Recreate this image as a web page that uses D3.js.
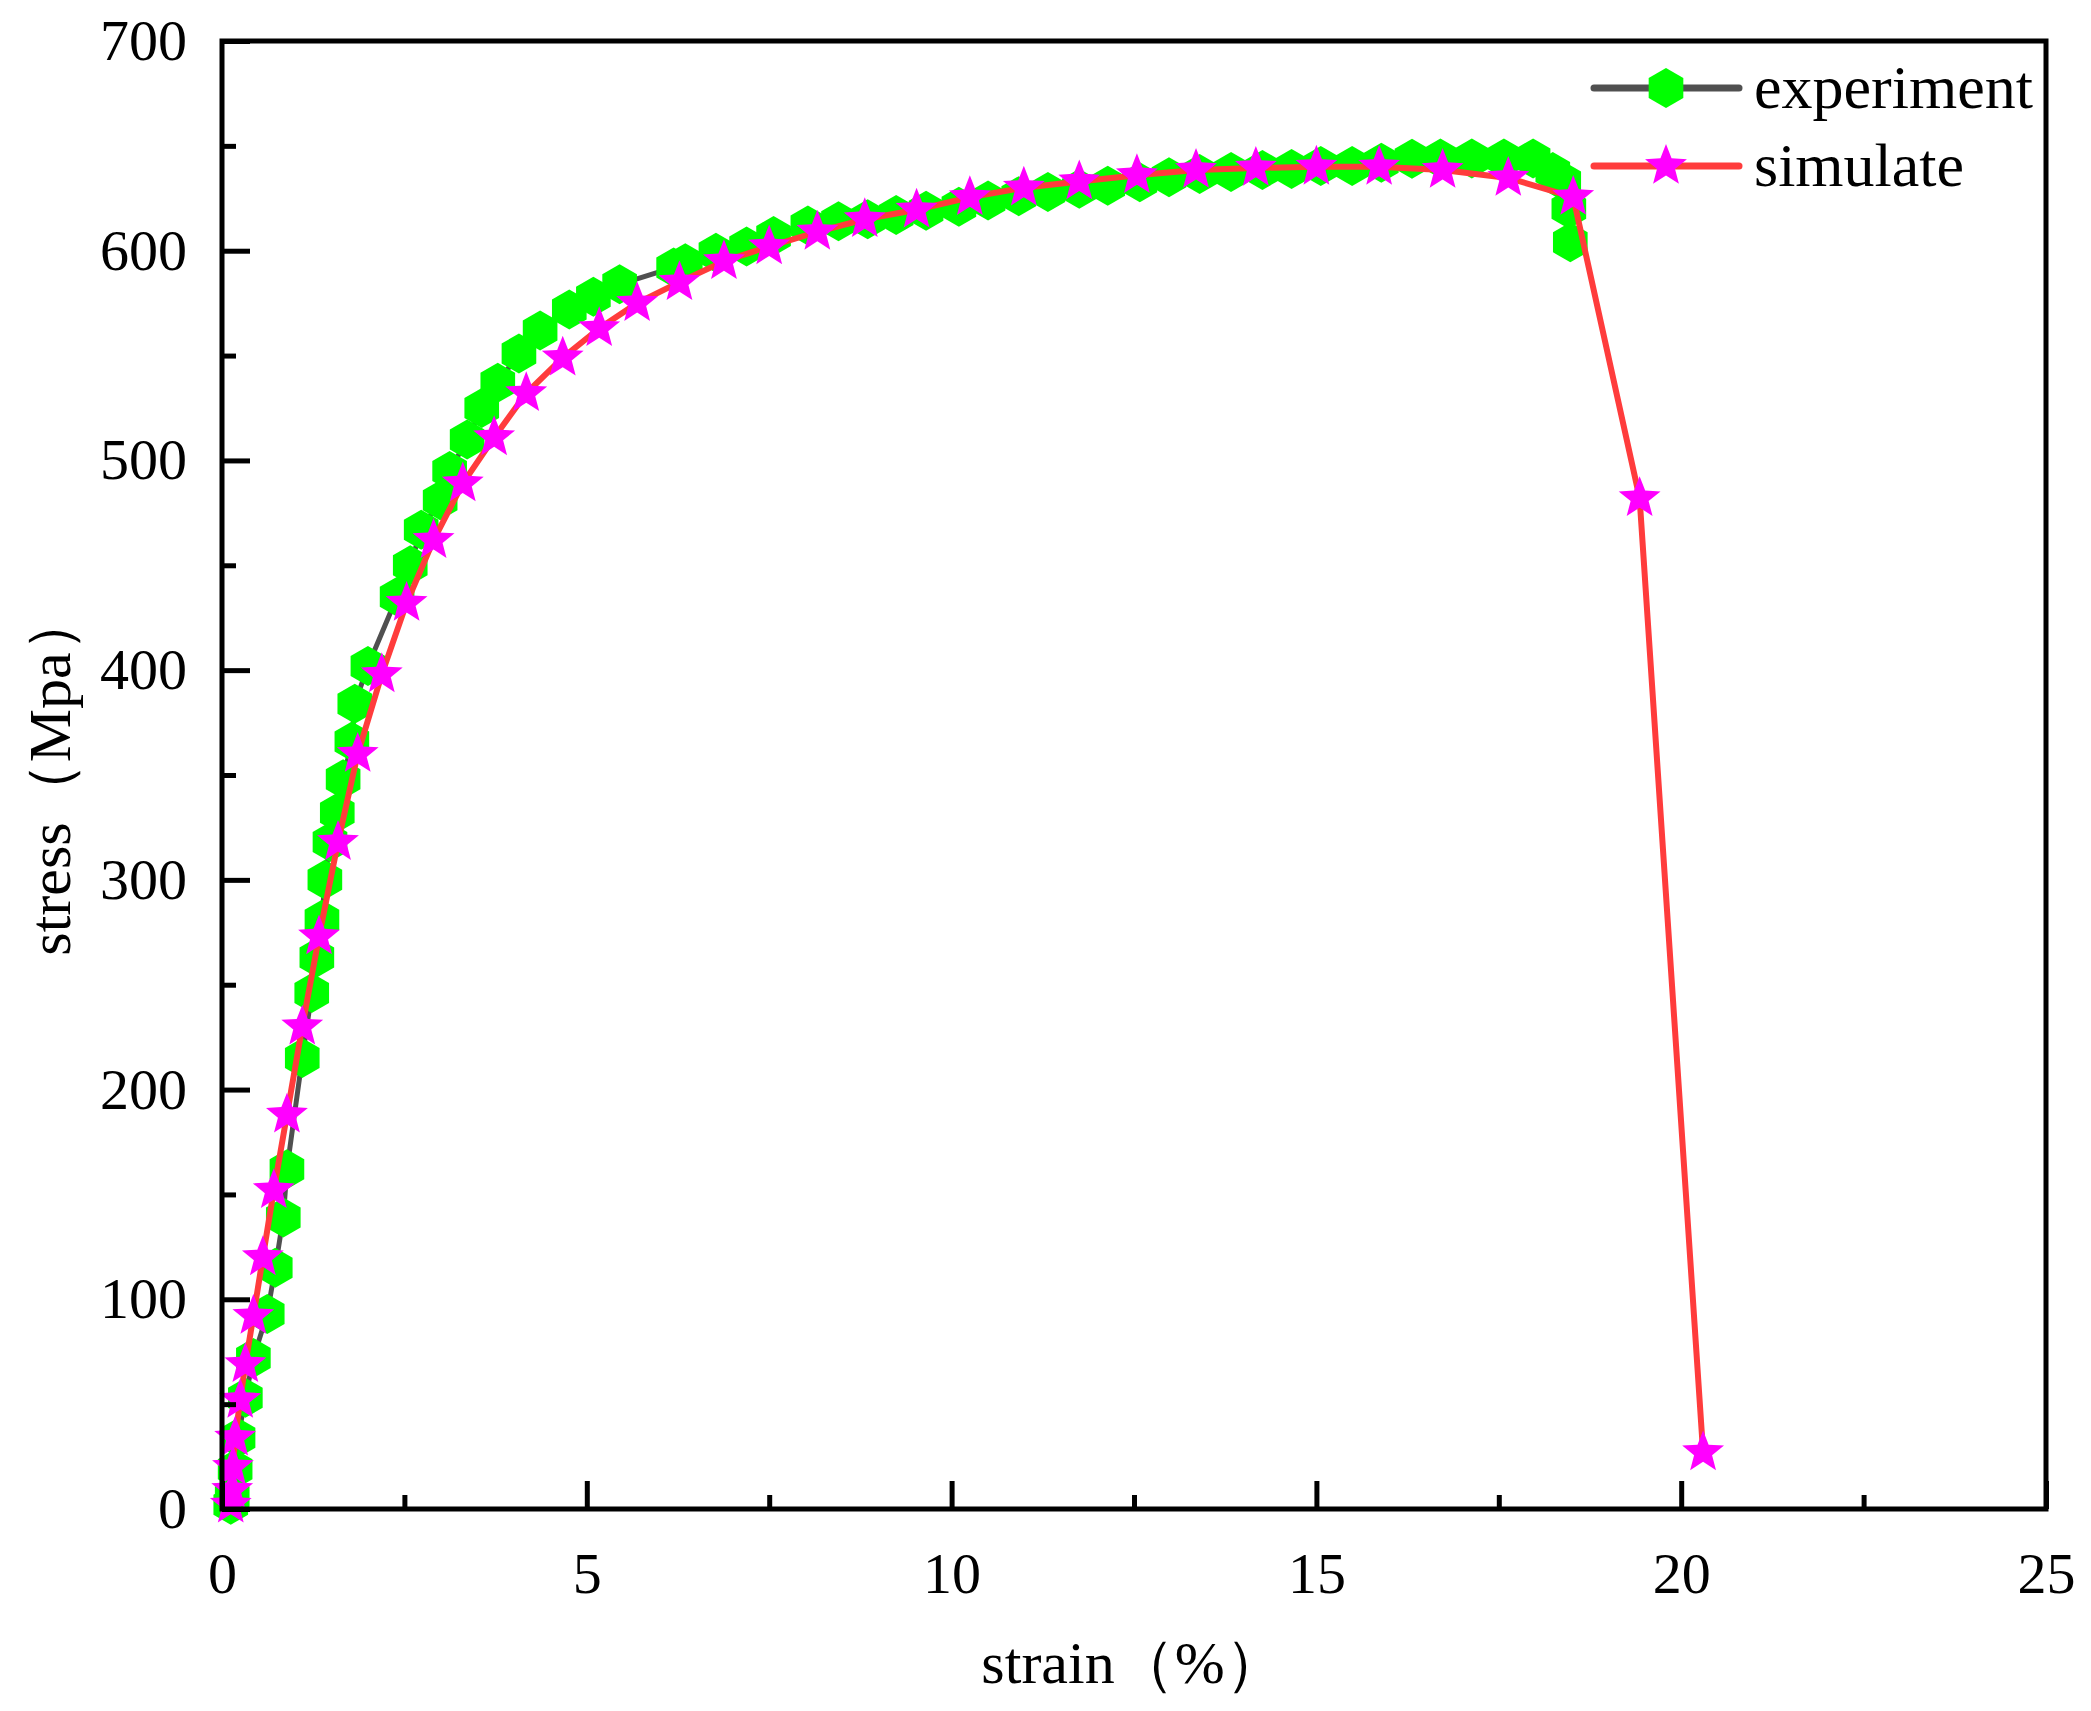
<!DOCTYPE html>
<html>
<head>
<meta charset="utf-8">
<script src="https://cdn.jsdelivr.net/npm/d3@7"></script>
<style>
body { margin: 0; background: #fff; }
text { font-family: "Liberation Serif", "Times New Roman", serif; fill: #000; }
</style>
</head>
<body>
<svg id="chart" width="2091" height="1711"></svg>
<script>
// experiment curve (strain %, stress MPa)
var expStrain = [0.12, 0.14, 0.18, 0.22, 0.32, 0.43, 0.62, 0.73, 0.84, 0.89, 1.10, 1.23, 1.30, 1.37, 1.41, 1.48, 1.58, 1.66, 1.78, 1.82,
  2.00, 2.40, 2.58, 2.73, 2.99, 3.12, 3.36, 3.56, 3.78, 4.07, 4.36, 4.76, 5.09, 5.45, 6.19, 6.35, 6.77, 7.19, 7.56, 8.03,
  8.45, 8.85, 9.24, 9.65, 10.10, 10.50, 10.92, 11.32, 11.75, 12.14, 12.58, 12.98, 13.40, 13.83, 14.26, 14.66, 15.06, 15.49, 15.89, 16.31,
  16.70, 17.13, 17.57, 17.97, 18.24, 18.39, 18.46, 18.48];
var expStress = [2, 6, 19, 34, 53, 72, 93, 115, 139, 162, 215, 246, 263, 281, 300, 318, 332, 348, 366, 384,
  402, 435, 450, 467, 481, 495, 510, 525, 537, 551, 562, 572, 578, 584, 592, 594, 599, 602, 607, 612,
  614, 615, 617, 619, 621, 624, 626, 628, 629.5, 631, 632.7, 635, 636.6, 637.5, 638.5, 639, 640.4, 640.4, 642, 643.8,
  644, 644, 644, 644, 637.5, 633, 620, 604];

// simulated curve
var simStrain = [0.12, 0.14, 0.15, 0.18, 0.25, 0.32, 0.43, 0.56, 0.71, 0.89, 1.10, 1.33, 1.59, 1.86, 2.19, 2.53, 2.90, 3.30, 3.73, 4.17,
  4.67, 5.17, 5.69, 6.27, 6.88, 7.50, 8.16, 8.81, 9.52, 10.25, 10.99, 11.75, 12.54, 13.35, 14.17, 15.00, 15.86, 16.73, 17.63, 18.52,
  19.43, 20.30];
var simStress = [2, 9, 20, 34, 52, 69, 92, 120, 152, 188, 230, 273, 318, 360, 398, 432, 462, 489, 511, 532,
  549, 563, 575, 585, 595, 602, 609, 615, 619.5, 625.5, 630, 633, 636, 638.5, 639.5, 640, 640, 638.5, 634.7, 625.6,
  482, 27];

var xMajor = [0, 5, 10, 15, 20, 25];
var xMinor = [2.5, 7.5, 12.5, 17.5, 22.5];
var yMajor = [0, 100, 200, 300, 400, 500, 600, 700];
var yMinor = [50, 150, 250, 350, 450, 550, 650];

var legendNames = ["experiment", "simulate"];

var L = 222, R = 2046, T = 41, B = 1509;

var svg = d3.select('#chart');

var x = d3.scaleLinear().domain([0, 25]).range([L, R]);
var y = d3.scaleLinear().domain([0, 700]).range([B, T]);

var expData = expStrain.map((d, i) => [d, expStress[i]]);
var simData = simStrain.map((d, i) => [d, simStress[i]]);

// hexagon with a point on top
var hexagon = {
  draw: function(ctx, size) {
    var r = Math.sqrt(size);
    for (var i = 0; i < 6; i++) {
      var a = Math.PI / 3 * i - Math.PI / 2;
      if (i === 0) ctx.moveTo(r * Math.cos(a), r * Math.sin(a));
      else ctx.lineTo(r * Math.cos(a), r * Math.sin(a));
    }
    ctx.closePath();
  }
};
// five point star, a bit fatter than d3.symbolStar
var star = {
  draw: function(ctx, size) {
    var r = Math.sqrt(size), ri = r * 0.43;
    for (var i = 0; i < 10; i++) {
      var a = Math.PI / 5 * i - Math.PI / 2, rr = i % 2 ? ri : r;
      if (i === 0) ctx.moveTo(rr * Math.cos(a), rr * Math.sin(a));
      else ctx.lineTo(rr * Math.cos(a), rr * Math.sin(a));
    }
    ctx.closePath();
  }
};
var hexPath = d3.symbol().type(hexagon).size(20 * 20)();
var starPath = d3.symbol().type(star).size(22 * 22)();

var line = d3.line().x(d => x(d[0])).y(d => y(d[1]));

// experiment
svg.append('path').datum(expData)
  .attr('d', line).attr('fill', 'none')
  .attr('stroke', '#505050').attr('stroke-width', 5);
svg.append('g').selectAll('path').data(expData).enter().append('path')
  .attr('d', hexPath)
  .attr('transform', d => 'translate(' + x(d[0]) + ',' + y(d[1]) + ')')
  .attr('fill', '#00ff00');

// simulate
svg.append('path').datum(simData)
  .attr('d', line).attr('fill', 'none')
  .attr('stroke', '#ff3c3c').attr('stroke-width', 6);
svg.append('g').selectAll('path').data(simData).enter().append('path')
  .attr('d', starPath)
  .attr('transform', d => 'translate(' + x(d[0]) + ',' + y(d[1]) + ')')
  .attr('fill', '#ff00ff');

// axes, ticks pointing inward
svg.append('g').attr('transform', 'translate(0,' + B + ')')
  .call(d3.axisBottom(x).tickValues(xMajor).tickSize(-28).tickPadding(43).tickFormat(d3.format('d')));
svg.append('g').attr('transform', 'translate(0,' + B + ')')
  .call(d3.axisBottom(x).tickValues(xMinor).tickSize(-14).tickFormat(''));
svg.append('g').attr('transform', 'translate(' + L + ',0)')
  .call(d3.axisLeft(y).tickValues(yMajor).tickSize(-28).tickPadding(35));
svg.append('g').attr('transform', 'translate(' + L + ',0)')
  .call(d3.axisLeft(y).tickValues(yMinor).tickSize(-14).tickFormat(''));

svg.selectAll('.domain').remove();
svg.selectAll('.tick line').attr('stroke', '#000').attr('stroke-width', 5);
svg.selectAll('.tick text').attr('font-size', 58)
  .attr('font-family', '"Liberation Serif", "Times New Roman", serif').attr('fill', '#000');

// frame
svg.append('rect').attr('x', L).attr('y', T).attr('width', R - L).attr('height', B - T)
  .attr('fill', 'none').attr('stroke', '#000').attr('stroke-width', 5);

// axis titles
svg.append('text').attr('x', 1133).attr('y', 1683)
  .attr('text-anchor', 'middle').attr('font-size', 60)
  .text('strain（%）');
svg.append('text').attr('transform', 'translate(70,774) rotate(-90)')
  .attr('text-anchor', 'middle').attr('font-size', 60)
  .text('stress（Mpa）');

// legend
var leg = svg.append('g');
var legY = [88, 166];
var legColors = ['#505050', '#ff3c3c'];
legendNames.forEach(function(name, i) {
  leg.append('line').attr('x1', 1594).attr('x2', 1739)
    .attr('y1', legY[i]).attr('y2', legY[i])
    .attr('stroke', legColors[i]).attr('stroke-width', 7).attr('stroke-linecap', 'round');
  leg.append('path').attr('d', i === 0 ? hexPath : starPath)
    .attr('transform', 'translate(1666,' + legY[i] + ')')
    .attr('fill', i === 0 ? '#00ff00' : '#ff00ff');
  leg.append('text').attr('x', 1754).attr('y', legY[i] + 20)
    .attr('font-size', 62).text(name);
});
</script>
</body>
</html>
